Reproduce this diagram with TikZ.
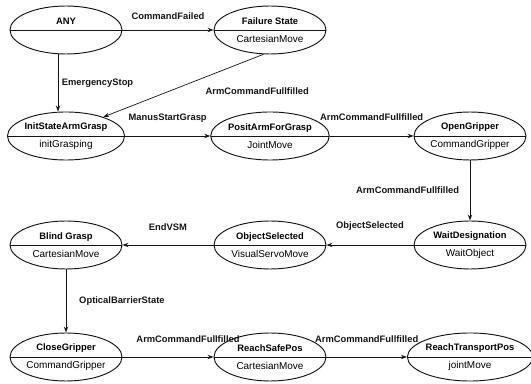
\documentclass[tikz,border=0pt]{standalone}
\usepackage{fontspec}
\setmainfont{Liberation Sans}
\usetikzlibrary{arrows.meta,shapes.geometric,calc}
\definecolor{ink}{RGB}{20,20,20}
\tikzset{
  >={Stealth[length=1.8mm,width=1.3mm]},
  state/.style={ellipse,draw=ink,line width=0.8pt,minimum width=3.36cm,
    minimum height=1.44cm,inner sep=0pt,align=center,
    font=\fontsize{8}{9.6}\selectfont,
    path picture={\draw[ink,line width=0.8pt] (path picture bounding box.west)
      -- (path picture bounding box.east);}},
  trans/.style={->,draw=ink,line width=0.6pt},
  tag/.style={font=\fontsize{8}{9.6}\selectfont\bfseries,text=ink,inner sep=1pt},
}
% state name on top, action below the line
\newcommand{\stext}[2]{\textbf{#1}\\[5.5pt]{\fontsize{8.5}{10}\selectfont #2}}

\begin{document}
\begin{tikzpicture}
    \useasboundingbox (0,0) rectangle (15.93,11.52);
    \node[state] (any) at (1.98,10.62) {\stext{ANY}{\phantom{A}}};
    \node[state] (fail) at (8.1,10.62) {\stext{Failure State}{CartesianMove}};
    \node[state] (init) at (1.98,7.44) {\stext{InitStateArmGrasp}{initGrasping}};
    \node[state] (posit) at (8.1,7.44) {\stext{PositArmForGrasp}{JointMove}};
    \node[state] (open) at (14.1,7.44) {\stext{OpenGripper}{CommandGripper}};
    \node[state] (wait) at (14.1,4.17) {\stext{WaitDesignation}{WaitObject}};
    \node[state] (objsel) at (8.1,4.17) {\stext{ObjectSelected}{VisualServoMove}};
    \node[state] (blind) at (1.98,4.17) {\stext{Blind Grasp}{CartesianMove}};
    \node[state] (close) at (1.98,0.81) {\stext{CloseGripper}{CommandGripper}};
    \node[state] (safe) at (8.1,0.81) {\stext{ReachSafePos}{CartesianMove}};
    \node[state] (transp) at (14.1,0.81) {\stext{ReachTransportPos}{jointMove}};
    \draw[trans] (any) -- node[tag,above=8pt]{CommandFailed} (fail);
    \draw[trans] ([xshift=-0.24cm]any.south) -- node[tag,right=2pt]{EmergencyStop} ([xshift=-0.24cm]init.north);
    \draw[trans] (fail.255) -- node[tag,pos=0.37,anchor=north west,yshift=-7pt]{ArmCommandFullfilled} (init.27);
    \draw[trans] (init) -- node[tag,above=10pt]{ManusStartGrasp} (posit);
    \draw[trans] (posit) -- node[tag,above=12pt]{ArmCommandFullfilled} (open);
    \draw[trans] (open) -- node[tag,left=8pt]{ArmCommandFullfilled} (wait);
    \draw[trans] (wait) -- node[tag,above=11pt]{ObjectSelected} (objsel);
    \draw[trans] (objsel) -- node[tag,above=11pt]{EndVSM} (blind);
    \draw[trans] (blind) -- node[tag,right=10pt]{OpticalBarrierState} (close);
    \draw[trans] (close) -- node[tag,above=11pt,pos=0.72]{ArmCommandFullfilled} (safe);
    \draw[trans] (safe) -- node[tag,above=11pt]{ArmCommandFullfilled} (transp);
\end{tikzpicture}
\end{document}
